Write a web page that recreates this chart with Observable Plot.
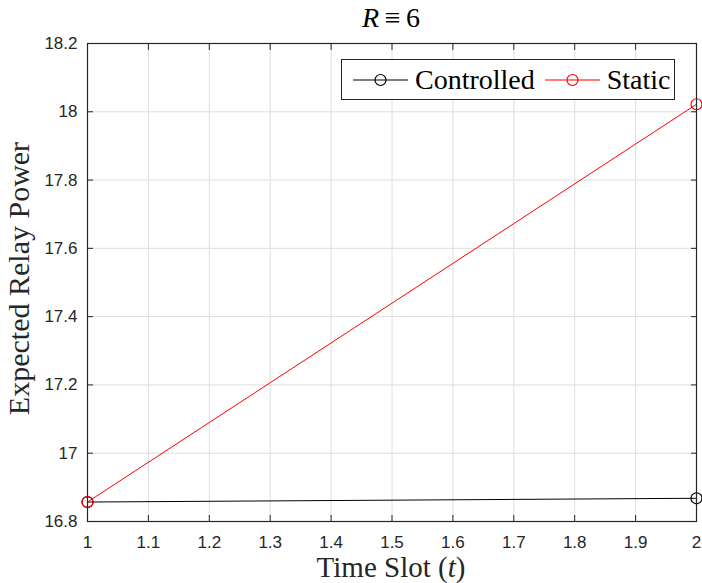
<!DOCTYPE html>
<html>
<head>
<meta charset="utf-8">
<script src="https://cdn.jsdelivr.net/npm/d3@7"></script>
<script src="https://cdn.jsdelivr.net/npm/@observablehq/plot@0.6"></script>
<style>
  html, body { margin: 0; padding: 0; background: #fff; }
  #wrap { position: relative; width: 702px; height: 583px; }
  .serif { font-family: "Liberation Serif", "DejaVu Serif", serif; color: #262626; position: absolute; white-space: nowrap; }
  .legtext { font-family: "Liberation Serif", "DejaVu Serif", serif; font-size: 28px; color: #000; white-space: nowrap; line-height: 32px; }
</style>
</head>
<body>
<div id="wrap"></div>
<script>
const timeSlots = [1, 2];
const controlled = [16.857, 16.868];
const staticVals = [16.857, 18.022];
const seriesNames = ["Controlled", "Static"];
const seriesColors = ["#000000", "#ff0000"];
const xTicks = [1, 1.1, 1.2, 1.3, 1.4, 1.5, 1.6, 1.7, 1.8, 1.9, 2];
const xTickLabels = ["1", "1.1", "1.2", "1.3", "1.4", "1.5", "1.6", "1.7", "1.8", "1.9", "2"];
const yTicks = [16.8, 17, 17.2, 17.4, 17.6, 17.8, 18, 18.2];
const yTickLabels = ["16.8", "17", "17.2", "17.4", "17.6", "17.8", "18", "18.2"];

const data = [];
timeSlots.forEach((t, i) => {
  data.push({t, v: controlled[i], s: seriesNames[0]});
  data.push({t, v: staticVals[i], s: seriesNames[1]});
});

const tickColor = "#262626";
const chart = Plot.plot({
  width: 702,
  height: 583,
  marginLeft: 87,
  marginRight: 6,
  marginTop: 43,
  marginBottom: 62,
  style: {fontFamily: "Liberation Sans, Arial, sans-serif", fontSize: "17px", color: tickColor, background: "#fff", overflow: "visible"},
  x: {domain: [1, 2]},
  y: {domain: [16.8, 18.2]},
  color: {domain: seriesNames, range: seriesColors},
  marks: [
    Plot.gridX(xTicks, {stroke: "#dedede", strokeOpacity: 1}),
    Plot.gridY(yTicks, {stroke: "#dedede", strokeOpacity: 1}),
    Plot.axisX(xTicks, {anchor: "bottom", tickSize: -6, tickPadding: 20, label: null, tickFormat: d => xTickLabels[xTicks.indexOf(d)], stroke: tickColor, fill: tickColor}),
    Plot.axisX(xTicks, {anchor: "top", tickSize: -6, tickFormat: () => "", label: null, stroke: tickColor}),
    Plot.axisY(yTicks, {anchor: "left", tickSize: -6, tickPadding: 16, label: null, tickFormat: d => yTickLabels[yTicks.indexOf(d)], stroke: tickColor, fill: tickColor}),
    Plot.axisY(yTicks, {anchor: "right", tickSize: -6, tickFormat: () => "", label: null, stroke: tickColor}),
    Plot.line(data, {x: "t", y: "v", z: "s", stroke: "s", strokeWidth: 1}),
    Plot.dot(data, {x: "t", y: "v", stroke: "s", r: 5.5, strokeWidth: 1.2, fill: "none"}),
    Plot.frame({stroke: tickColor, strokeWidth: 1.2}),
    Plot.text(["Expected Relay Power"], {frameAnchor: "left", dx: -68, dy: -4, rotate: -90, textAnchor: "middle", fontFamily: "Liberation Serif, serif", fontSize: 30, fill: tickColor})
  ]
});

const wrap = document.getElementById("wrap");
wrap.appendChild(chart);

const title = document.createElement("div");
title.className = "serif";
title.style.cssText = "left:0;width:782px;text-align:center;top:2px;font-size:28px;line-height:32px;color:#000;";
title.innerHTML = "<i>R</i>&thinsp;\u2261&thinsp;6";
wrap.appendChild(title);

const xl = document.createElement("div");
xl.className = "serif";
xl.style.cssText = "left:0;width:782px;text-align:center;top:554px;font-size:29px;line-height:26px;";
xl.innerHTML = "Time Slot (<i>t</i>)";
wrap.appendChild(xl);

// legend (HTML)
const legend = document.createElement("div");
Object.assign(legend.style, {
  position: "absolute", left: "341px", top: "59px", width: "334px", height: "41px",
  border: "1px solid #262626", background: "#fff", boxSizing: "border-box",
  display: "flex", alignItems: "center", paddingLeft: "10px"
});
seriesNames.forEach((name, i) => {
  const c = seriesColors[i];
  const ns = "http://www.w3.org/2000/svg";
  const svg = document.createElementNS(ns, "svg");
  svg.setAttribute("width", "58");
  svg.setAttribute("height", "20");
  svg.style.flex = "none";
  svg.style.marginRight = "5px";
  const ln = document.createElementNS(ns, "line");
  ln.setAttribute("x1", "1"); ln.setAttribute("x2", "56"); ln.setAttribute("y1", "10"); ln.setAttribute("y2", "10");
  ln.setAttribute("stroke", c); ln.setAttribute("stroke-width", "1.2");
  const ci = document.createElementNS(ns, "circle");
  ci.setAttribute("cx", "28.5"); ci.setAttribute("cy", "10"); ci.setAttribute("r", "5.5");
  ci.setAttribute("fill", "none"); ci.setAttribute("stroke", c); ci.setAttribute("stroke-width", "1.2");
  svg.appendChild(ln); svg.appendChild(ci);
  legend.appendChild(svg);
  const sp = document.createElement("div");
  sp.className = "legtext";
  sp.textContent = name;
  if (i === 0) sp.style.marginRight = "9px";
  legend.appendChild(sp);
});
wrap.appendChild(legend);
</script>
</body>
</html>
